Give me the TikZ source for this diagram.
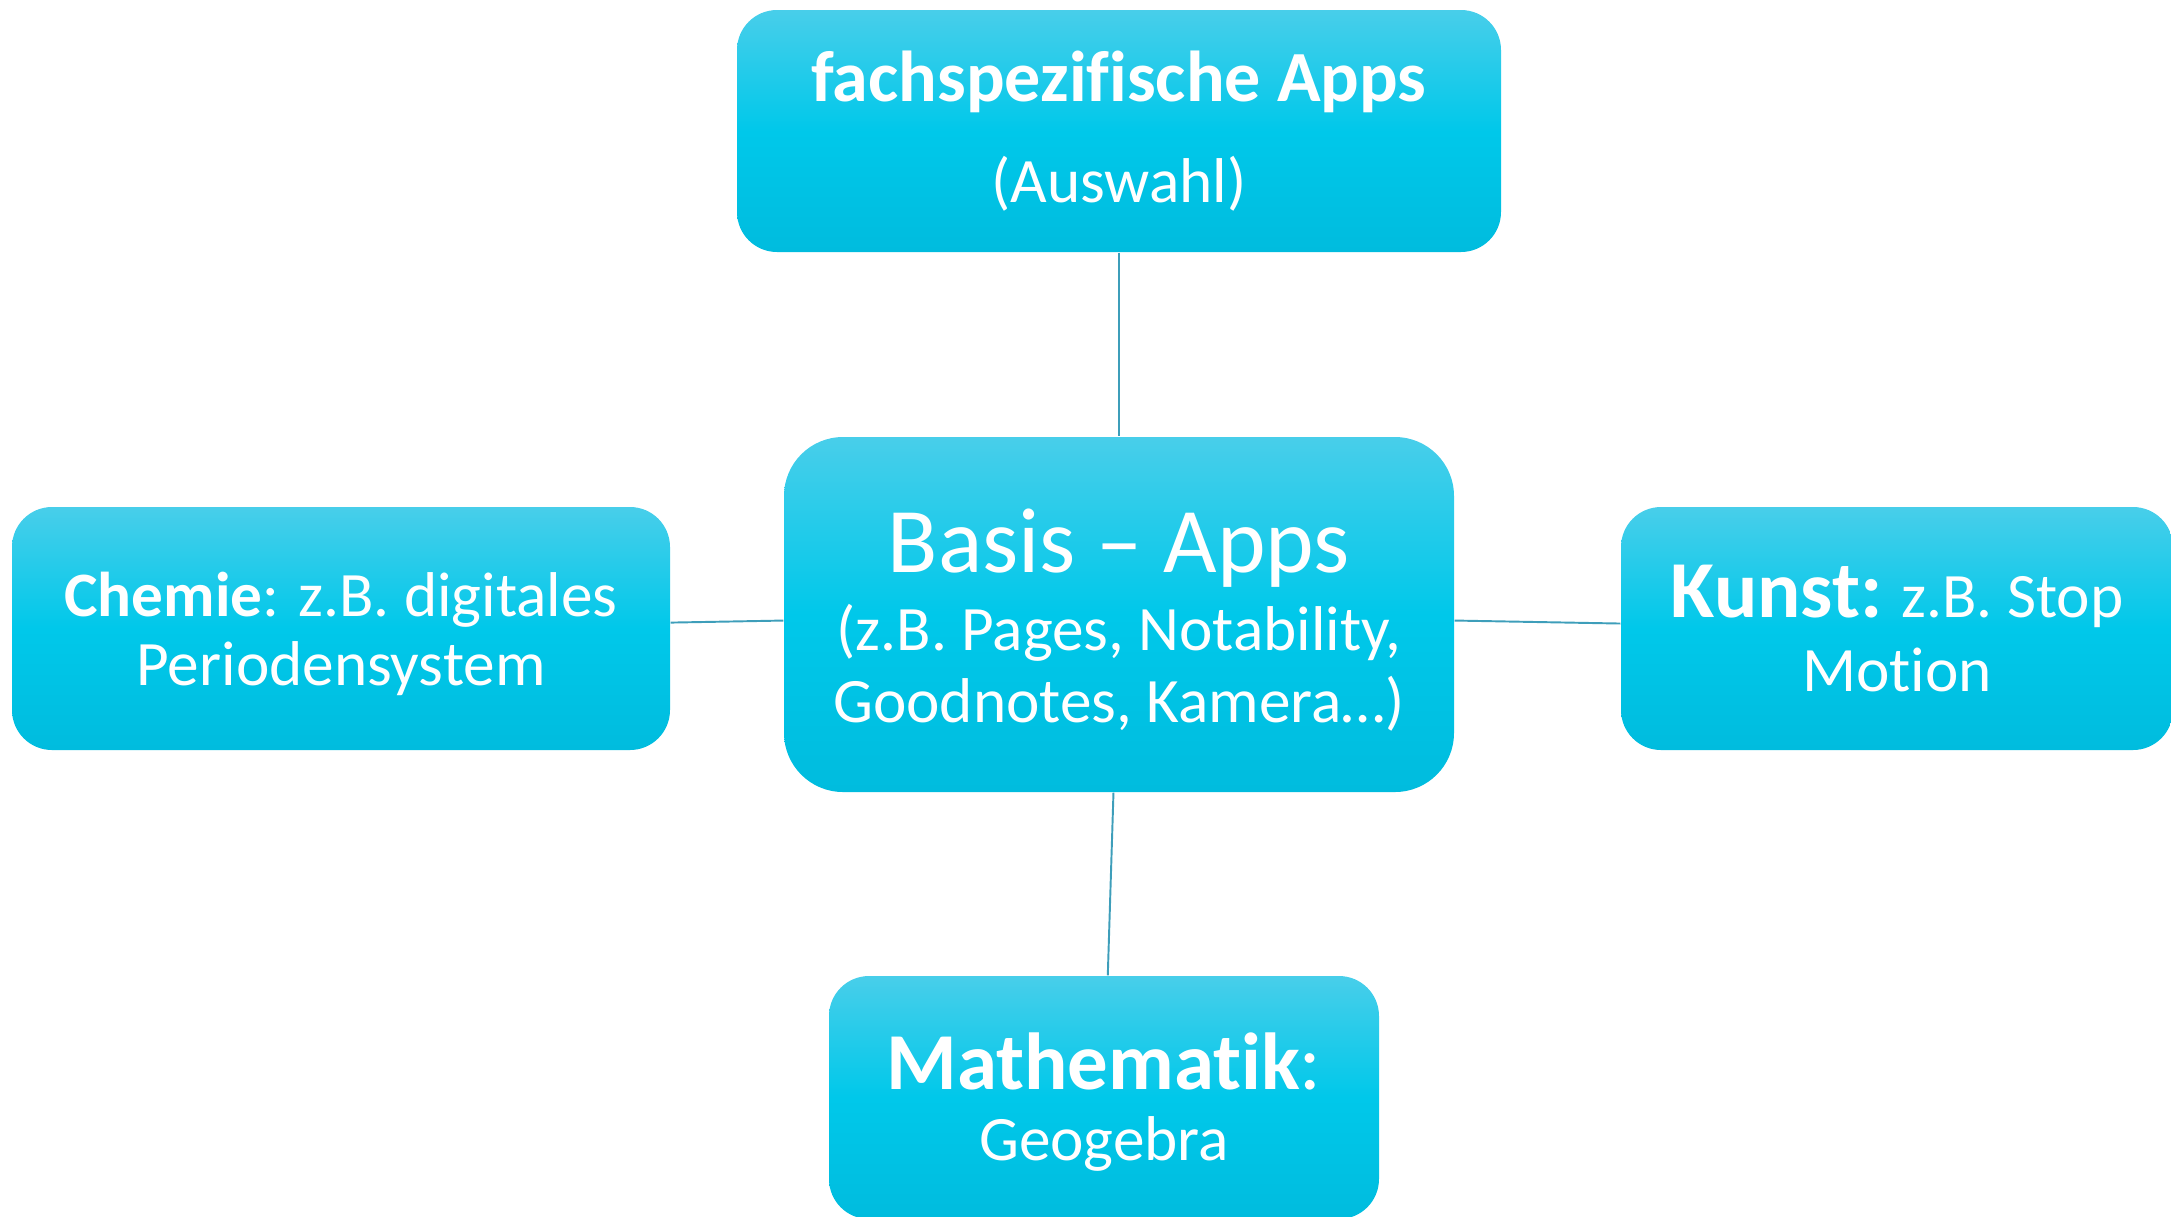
\documentclass[tikz,border=0pt]{standalone}
\usepackage{fontspec}
\setmainfont[Ligatures={TeX,NoCommon}]{Carlito}
\definecolor{boxtop}{RGB}{72,206,234}
\definecolor{boxmid}{RGB}{0,200,234}
\definecolor{boxbot}{RGB}{0,188,222}
\definecolor{linkline}{RGB}{62,158,186}

\begin{document}
\begin{tikzpicture}[x=0.1mm, y=-0.1mm,
        appbox/.style={rounded corners=4mm, top color=boxtop, bottom color=boxbot, middle color=boxmid,
            text=white, align=center, inner sep=0pt, font=\fontsize{18}{20.5}\selectfont},
        link/.style={draw=linkline, line width=0.55pt}]
        \useasboundingbox (0,0) rectangle (2171,1216);

        \node[appbox, minimum width=76.4mm, minimum height=24.2mm] (fach) at (1119,131)
            {{\fontsize{20.5}{24}\selectfont\bfseries fachspezifische Apps}\\[8.2pt](Auswahl)};
        \node[appbox, rounded corners=5.9mm, minimum width=67mm, minimum height=35.5mm] (basis) at (1119,614.5)
            {\rule{0pt}{21pt}{\fontsize{26.3}{30}\selectfont Basis -- Apps}\\[1.7pt](z.B. Pages, Notability,\\Goodnotes, Kamera…)};
        \node[appbox, minimum width=65.8mm, minimum height=24.3mm] (chemie) at (341,628.5)
            {\rule{0pt}{15.5pt}\textbf{Chemie}: z.B. digitales\\[-0.8pt]Periodensystem};
        \node[appbox, minimum width=55.2mm, minimum height=24.3mm] (kunst) at (1897,628.5)
            {{\fontsize{23}{26}\selectfont\bfseries Kunst:} z.B. Stop\\[0.3pt]Motion};
        \node[appbox, minimum width=55mm, minimum height=24.3mm] (mathe) at (1104,1097.5)
            {\rule{0pt}{19pt}{\fontsize{23}{26}\selectfont\bfseries Mathematik}{\fontsize{23}{26}\selectfont:}\\[-0.3pt]Geogebra};

        \draw[link] (fach) -- (basis);
        \draw[link] (chemie) -- (basis);
        \draw[link] (basis) -- (kunst);
        \draw[link] (basis) -- (mathe);
    \end{tikzpicture}
\end{document}
